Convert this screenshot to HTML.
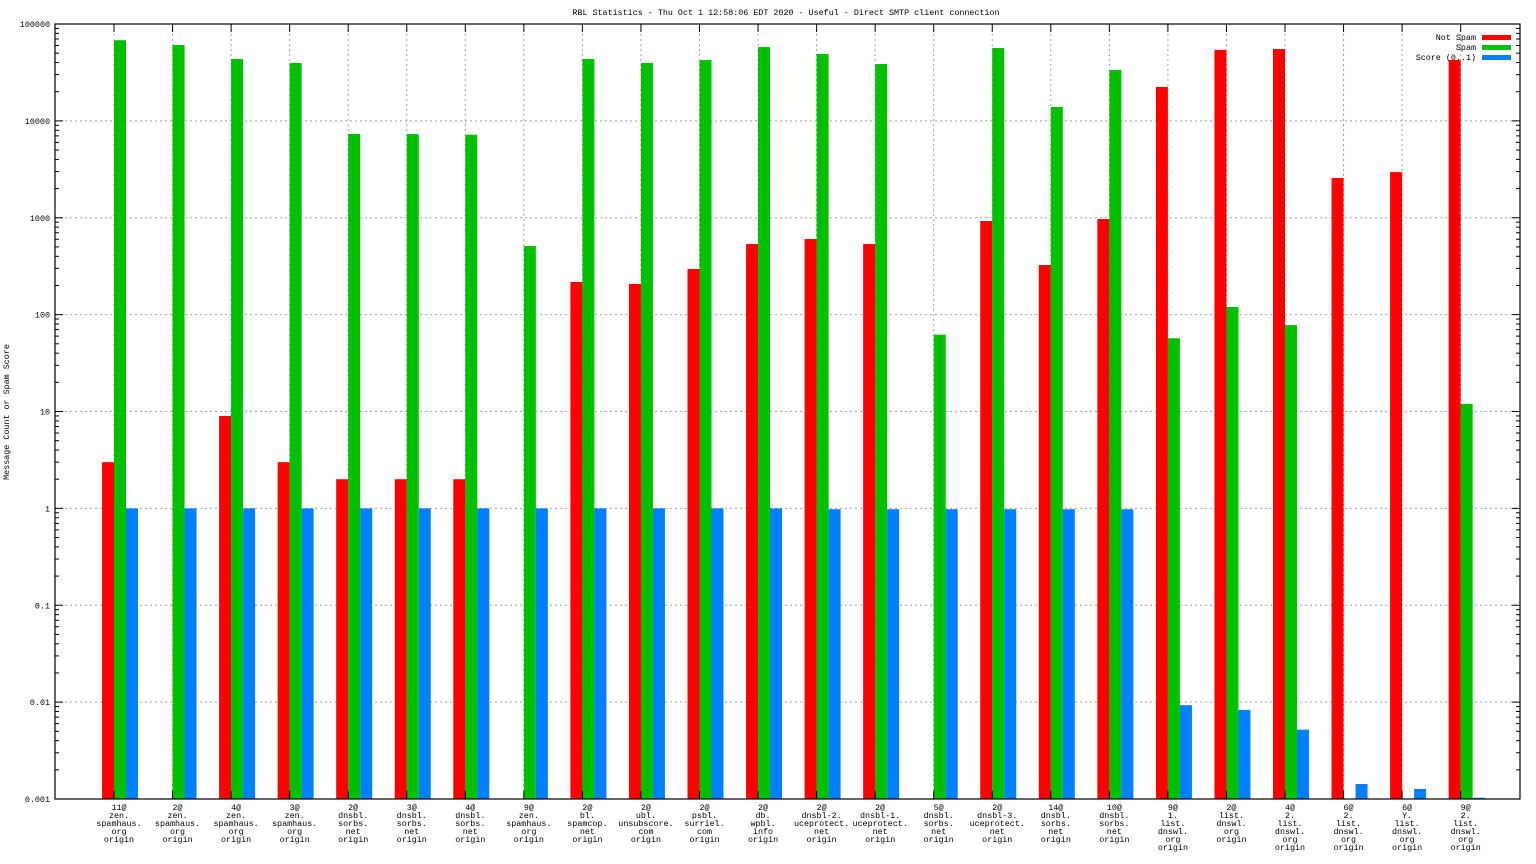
<!DOCTYPE html>
<html><head><meta charset="utf-8"><style>
html,body{margin:0;padding:0;background:#fff;}
svg{display:block;font-family:"Liberation Mono","DejaVu Sans Mono",monospace;font-size:8.4px;}
</style></head><body>
<svg id="chart" width="1536" height="864" viewBox="0 0 1536 864" xmlns="http://www.w3.org/2000/svg">
<text x="786" y="15" text-anchor="middle">RBL Statistics - Thu Oct  1 12:58:06 EDT 2020 - Useful - Direct SMTP client connection</text>
<text transform="translate(9,412) rotate(-90)" text-anchor="middle">Message Count or Spam Score</text>
<g id="grid"></g><g id="bars"></g><g id="axes"></g><g id="legend"></g>
</svg>
<script>
const categories = [
 ["11@","zen.","spamhaus.","org","origin"],["2@","zen.","spamhaus.","org","origin"],["4@","zen.","spamhaus.","org","origin"],["3@","zen.","spamhaus.","org","origin"],
 ["2@","dnsbl.","sorbs.","net","origin"],["3@","dnsbl.","sorbs.","net","origin"],["4@","dnsbl.","sorbs.","net","origin"],["9@","zen.","spamhaus.","org","origin"],
 ["2@","bl.","spamcop.","net","origin"],["2@","ubl.","unsubscore.","com","origin"],["2@","psbl.","surriel.","com","origin"],["2@","db.","wpbl.","info","origin"],
 ["2@","dnsbl-2.","uceprotect.","net","origin"],["2@","dnsbl-1.","uceprotect.","net","origin"],["5@","dnsbl.","sorbs.","net","origin"],["2@","dnsbl-3.","uceprotect.","net","origin"],
 ["14@","dnsbl.","sorbs.","net","origin"],["10@","dnsbl.","sorbs.","net","origin"],["9@","1.","list.","dnswl.","org","origin"],["2@","list.","dnswl.","org","origin"],
 ["4@","2.","list.","dnswl.","org","origin"],["6@","2.","list.","dnswl.","org","origin"],["6@","Y.","list.","dnswl.","org","origin"],["9@","2.","list.","dnswl.","org","origin"]
];
const notSpam = [3,0,9,3,2,2,2,0,217,207,296,535,604,535,0,925,325,970,22400,54000,55200,2570,2960,42500];
const spam = [68000,60700,43500,39600,7330,7300,7200,510,43500,39600,42500,57800,49000,38600,62,56500,13900,33500,57,120,78,0,0,12];
const score = [1,1,1,1,1,1,1,1,1,1,1,1,0.98,0.98,0.98,0.98,0.98,0.98,0.0093,0.0083,0.0052,0.00143,0.00127,0.00103];
const yTickLabels = ["0.001","0.01","0.1","1","10","100","1000","10000","100000"];
const seriesNames = ["Not Spam","Spam","Score (0..1)"];
const seriesColors = ["#ff0000","#00c000","#0080ff"];

const NS="http://www.w3.org/2000/svg";
const L=55,R=1520,T=24,B=799;
const dec=(B-T)/8;
function y(v){return B-(Math.log10(v)+3)*dec;}
function x(i){return 114+i*58.55;}
function mk(tag,attrs,parent){const e=document.createElementNS(NS,tag);for(const k in attrs)e.setAttribute(k,attrs[k]);parent.appendChild(e);return e;}
const grid=document.getElementById('grid'),bars=document.getElementById('bars'),axes=document.getElementById('axes'),leg=document.getElementById('legend');
// horizontal grid + y ticks
yTickLabels.forEach((lab,k)=>{
  const yy=y(Math.pow(10,k-3));
  if(k>0&&k<8){const g=mk('line',{x1:L,x2:R,y1:yy,y2:yy,stroke:'#a0a0a0','stroke-width':1,'stroke-dasharray':'2,3'},grid);
  }
  const t=mk('text',{x:L-5,y:yy+3,'text-anchor':'end'},axes);t.textContent=lab;
  
  mk('line',{x1:L,x2:L+8,y1:yy,y2:yy,stroke:'#000'},axes);mk('line',{x1:R-8,x2:R,y1:yy,y2:yy,stroke:'#000'},axes);
  if(k<8){for(let m=2;m<10;m++){const ym=y(m*Math.pow(10,k-3));
    mk('line',{x1:L,x2:L+4,y1:ym,y2:ym,stroke:'#000'},axes);mk('line',{x1:R-4,x2:R,y1:ym,y2:ym,stroke:'#000'},axes);}}
});
// x grid, ticks, labels
categories.forEach((lines,i)=>{
  const xx=x(i);
  const g=mk('line',{x1:xx,x2:xx,y1:T,y2:B,stroke:'#a0a0a0','stroke-width':1,'stroke-dasharray':'2,3'},grid);
  
  mk('line',{x1:xx,x2:xx,y1:T,y2:T+8,stroke:'#000'},axes);mk('line',{x1:xx,x2:xx,y1:B-8,y2:B,stroke:'#000'},axes);
  const t=mk('text',{x:xx+5,y:810,'text-anchor':'middle'},axes);
  
  lines.forEach((s,j)=>{const ts=mk('tspan',{x:xx+5,y:810+j*8},t);ts.textContent=s;});
  [notSpam[i],spam[i],score[i]].forEach((v,s)=>{
    if(!(v>0))return;
    const top=y(v);
    const r=mk('rect',{x:xx-12+s*12,y:top,width:12,height:B-top,fill:seriesColors[s]},bars);
    
    
  });
});
const frame=mk('rect',{x:L,y:T,width:R-L,height:B-T,fill:'none',stroke:'#000','stroke-width':1.2},axes);

seriesNames.forEach((n,s)=>{
  const yy=37+s*10;
  const t=mk('text',{x:1476,y:yy+3,'text-anchor':'end'},leg);t.textContent=n;
  
  const r=mk('rect',{x:1482,y:yy-2,width:29,height:5,fill:seriesColors[s]},leg);
  
});
</script>
</body></html>
